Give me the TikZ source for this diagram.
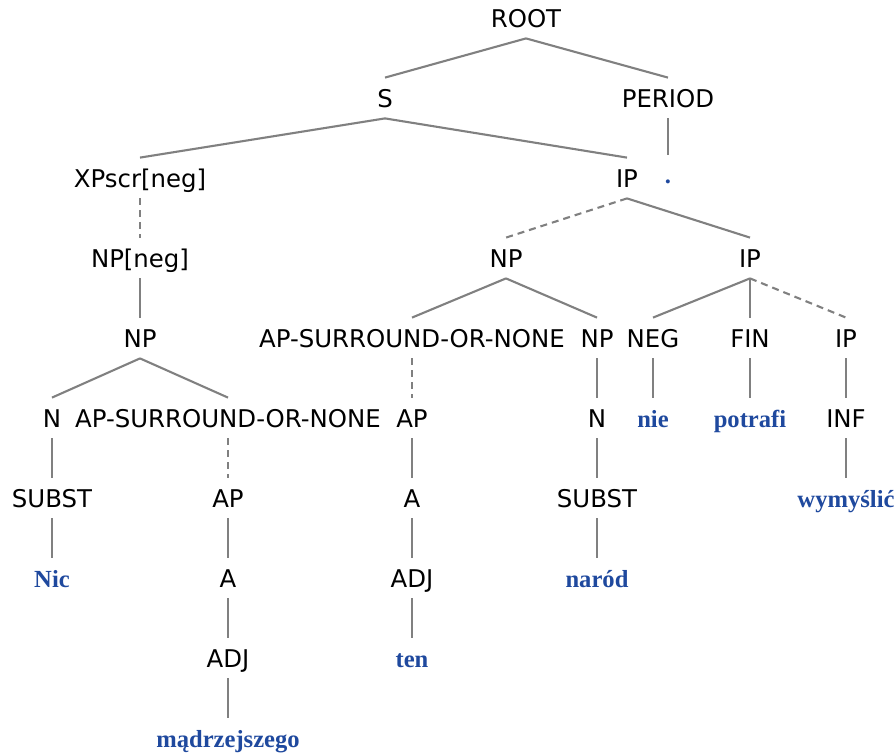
\documentclass[tikz,border=0pt]{standalone}
\usepackage{fontspec}
\newfontfamily\catfont{DejaVu Sans}
\newfontfamily\wordfont{Liberation Serif}
\definecolor{wordblue}{RGB}{31,73,158}
\definecolor{edgegray}{RGB}{128,128,128}

\begin{document}
\begin{tikzpicture}[x=0.5pt, y=-0.5pt,
    cat/.style={font=\catfont\fontsize{12.2}{14}\selectfont, text height=9pt, text depth=0pt, inner xsep=1pt, inner ysep=5.5pt},
    word/.style={font=\wordfont\bfseries\fontsize{12.3}{14}\selectfont, text=wordblue, text height=9pt, text depth=0pt, inner xsep=1pt, inner ysep=5.5pt},
    edge/.style={draw=edgegray, line width=1.05pt},
    trace/.style={edge, dash pattern=on 3.5pt off 2.5pt}]
    \useasboundingbox (0,0) rectangle (896,755);

    % categories, row by row
    \node[cat] (root) at (526,18) {ROOT};
    \node[cat] (s) at (385,98) {S};
    \node[cat] (period) at (668,98) {PERIOD};
    \node[cat] (xpscr) at (140,178) {XPscr[neg]};
    \node[cat] (ip) at (627,178) {IP};
    \node[word] (dot) at (668,175) {.};
    \node[cat] (npneg) at (140,258) {NP[neg]};
    \node[cat] (np) at (506,258) {NP};
    \node[cat] (ipb) at (750,258) {IP};
    \node[cat] (npa) at (140,338) {NP};
    \node[cat] (apsur) at (412,338) {AP-SURROUND-OR-NONE};
    \node[cat] (npb) at (597,338) {NP};
    \node[cat] (neg) at (653,338) {NEG};
    \node[cat] (fin) at (750,338) {FIN};
    \node[cat] (ipc) at (846,338) {IP};
    \node[cat] (na) at (52,418) {N};
    \node[cat] (apsurb) at (228,418) {AP-SURROUND-OR-NONE};
    \node[cat] (apa) at (412,418) {AP};
    \node[cat] (nb) at (597,418) {N};
    \node[word] (nie) at (653,418) {nie};
    \node[word] (potrafi) at (750,418) {potrafi};
    \node[cat] (inf) at (846,418) {INF};
    \node[cat] (substa) at (52,498) {SUBST};
    \node[cat] (apb) at (228,498) {AP};
    \node[cat] (aa) at (412,498) {A};
    \node[cat] (substb) at (597,498) {SUBST};
    \node[word] (wymyslic) at (846,498) {wymyślić};
    \node[word] (nic) at (52,578) {Nic};
    \node[cat] (ab) at (228,578) {A};
    \node[cat] (adja) at (412,578) {ADJ};
    \node[word] (narod) at (597,578) {naród};
    \node[cat] (adjb) at (228,658) {ADJ};
    \node[word] (ten) at (412,658) {ten};
    \node[word] (madrz) at (228,738) {mądrzejszego};

    % branches
    \draw[edge] (root.south) -- (s.north);
    \draw[edge] (root.south) -- (period.north);
    \draw[edge] (s.south) -- (xpscr.north);
    \draw[edge] (s.south) -- (ip.north);
    \draw[edge] (period.south) -- (dot.north);
    \draw[trace] (xpscr.south) -- (npneg.north);
    \draw[trace] (ip.south) -- (np.north);
    \draw[edge] (ip.south) -- (ipb.north);
    \draw[edge] (npneg.south) -- (npa.north);
    \draw[edge] (np.south) -- (apsur.north);
    \draw[edge] (np.south) -- (npb.north);
    \draw[edge] (ipb.south) -- (neg.north);
    \draw[edge] (ipb.south) -- (fin.north);
    \draw[trace] (ipb.south) -- (ipc.north);
    \draw[edge] (npa.south) -- (na.north);
    \draw[edge] (npa.south) -- (apsurb.north);
    \draw[trace] (apsur.south) -- (apa.north);
    \draw[edge] (npb.south) -- (nb.north);
    \draw[edge] (neg.south) -- (nie.north);
    \draw[edge] (fin.south) -- (potrafi.north);
    \draw[edge] (ipc.south) -- (inf.north);
    \draw[edge] (na.south) -- (substa.north);
    \draw[trace] (apsurb.south) -- (apb.north);
    \draw[edge] (apa.south) -- (aa.north);
    \draw[edge] (nb.south) -- (substb.north);
    \draw[edge] (inf.south) -- (wymyslic.north);
    \draw[edge] (substa.south) -- (nic.north);
    \draw[edge] (apb.south) -- (ab.north);
    \draw[edge] (aa.south) -- (adja.north);
    \draw[edge] (substb.south) -- (narod.north);
    \draw[edge] (ab.south) -- (adjb.north);
    \draw[edge] (adja.south) -- (ten.north);
    \draw[edge] (adjb.south) -- (madrz.north);
\end{tikzpicture}
\end{document}
